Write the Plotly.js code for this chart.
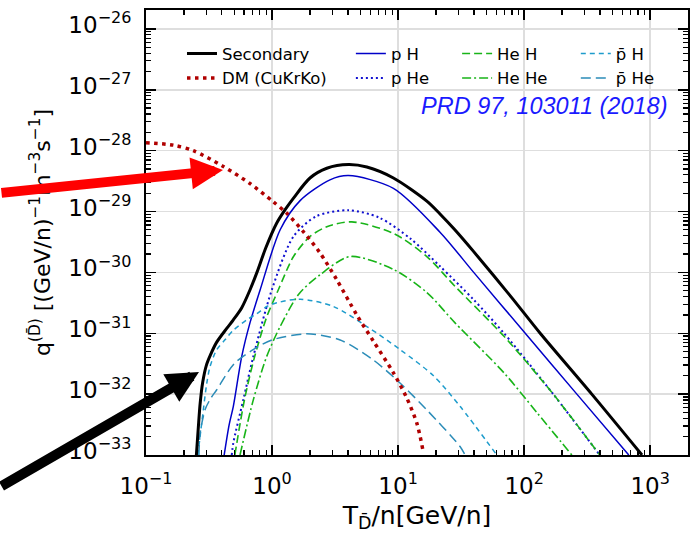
<!DOCTYPE html>
<html>
<head>
<meta charset="utf-8">
<script src="https://cdn.plot.ly/plotly-3.0.1.min.js"></script>
<style>
html,body{margin:0;padding:0;background:#fff;}
#chart{width:690px;height:535px;}
</style>
</head>
<body>
<div id="chart"></div>
<script>
// Kinetic energy per nucleon T (GeV/n) and source term q (GeV/n)^-1 m^-3 s^-1
const T_secondary = [0.251,0.260,0.269,0.282,0.302,0.324,0.363,0.437,0.493,0.575,0.668,0.759,0.891,1.09,1.27,1.48,2.00,2.72,4.04,5.65,9.18,16.9,21.5,28.2,39.8,79.4,134,344,861];
const q_secondary = [1.00e-33,2.82e-33,7.08e-33,1.58e-32,3.02e-32,4.37e-32,7.08e-32,1.20e-31,1.66e-31,2.63e-31,5.13e-31,1.00e-30,2.51e-30,6.46e-30,1.07e-29,1.66e-29,3.55e-29,5.13e-29,5.89e-29,5.37e-29,3.55e-29,1.48e-29,9.12e-30,5.01e-30,2.19e-30,3.89e-31,1.00e-31,1.00e-32,1.00e-33];

const T_dm = [0.100,0.165,0.237,0.410,0.668,1.02,1.31,1.77,2.40,3.26,4.70,6.37,9.18,11.7,14.1,15.7];
const q_dm = [1.35e-28,1.23e-28,1.00e-28,5.50e-29,2.88e-29,1.45e-29,9.33e-30,4.68e-30,2.09e-30,7.59e-31,2.00e-31,7.41e-32,2.24e-32,8.71e-33,3.31e-33,1.23e-33];

const T_pH = [0.417,0.457,0.493,0.575,0.668,0.804,1.16,1.67,2.88,4.04,9.18,21.5,39.8,102,262,676];
const q_pH = [1.00e-33,3.16e-33,6.31e-33,4.17e-32,1.48e-31,5.13e-31,5.01e-30,1.51e-29,3.31e-29,3.89e-29,2.40e-29,4.57e-30,1.00e-30,1.00e-31,1.00e-32,1.00e-33];

const T_pHe = [0.479,0.493,0.592,0.711,0.995,1.48,2.24,4.04,7.08,12.6,21.5,39.8,69.2,170,398];
const q_pHe = [1.00e-33,1.58e-33,8.13e-33,4.17e-32,5.13e-31,3.89e-30,8.32e-30,1.05e-29,7.94e-30,3.55e-30,1.26e-30,3.55e-31,1.00e-31,1.00e-32,1.00e-33];

const T_HeH = [0.507,0.603,0.724,0.908,1.12,1.48,2.00,2.72,4.29,9.18,16.9,28.3,69.2,170,398];
const q_HeH = [1.00e-33,7.94e-33,3.98e-32,1.86e-31,5.13e-31,1.82e-30,3.89e-30,5.62e-30,6.76e-30,4.37e-30,1.82e-30,5.89e-31,8.91e-32,1.00e-32,1.00e-33];

const T_HeHe = [0.557,0.711,0.908,1.16,1.64,2.40,4.16,9.18,16.9,28.3,69.2,126,239];
const q_HeHe = [1.00e-33,8.13e-33,4.17e-32,1.29e-31,4.47e-31,9.12e-31,1.82e-30,1.12e-30,4.68e-31,1.48e-31,2.24e-32,5.01e-33,1.00e-33];

const T_pbarH = [0.258,0.272,0.285,0.302,0.322,0.364,0.427,0.493,0.631,0.757,0.908,1.09,1.67,3.07,5.65,10.4,19.1,31.0,60.7];
const q_pbarH = [1.00e-33,2.51e-33,5.50e-33,1.41e-32,2.82e-32,5.37e-32,7.94e-32,1.12e-31,1.66e-31,2.09e-31,2.75e-31,3.16e-31,3.63e-31,2.75e-31,1.29e-31,5.37e-32,2.00e-32,6.31e-33,1.00e-33];

const T_pbarHe = [0.263,0.269,0.295,0.324,0.363,0.501,0.708,1.00,1.88,3.47,6.37,10.4,16.9,31.0,34.0];
const q_pbarHe = [1.00e-33,2.29e-33,5.62e-33,8.32e-33,1.17e-32,3.16e-32,5.37e-32,7.76e-32,9.77e-32,7.76e-32,3.63e-32,1.51e-32,5.50e-33,1.38e-33,1.00e-33];

const names = ['Secondary','DM (CuKrKo)','p H','p He','He H','He He','p\u0304 H','p\u0304 He'];

// tick positions and exponents for labels
const xTickVals = [0.1, 1, 10, 100, 1000];
const xTickExp = ['\u22121', '0', '1', '2', '3'];
const yTickVals = [1e-33, 1e-32, 1e-31, 1e-30, 1e-29, 1e-28, 1e-27, 1e-26];
const yTickExp = ['\u221233', '\u221232', '\u221231', '\u221230', '\u221229', '\u221228', '\u221227', '\u221226'];

function powLabel(e) {
  return '10<sup><span style="font-size:16px">' + e + '</span></sup>';
}

function tr(x, y, name, color, width, dash, legend, rank) {
  return {x: x, y: y, name: name, type: 'scatter', mode: 'lines',
    line: {color: color, width: width, dash: dash, shape: 'spline', smoothing: 0.8},
    legend: legend, legendrank: rank, hoverinfo: 'skip'};
}

const data = [
  tr(T_pH, q_pH, names[2], '#0000c8', 1.5, 'solid', 'legend2', 1),
  tr(T_pHe, q_pHe, names[3], '#1010d0', 2, '2px,3px', 'legend2', 2),
  tr(T_HeH, q_HeH, names[4], '#18b418', 1.6, '8px,4px', 'legend3', 1),
  tr(T_HeHe, q_HeHe, names[5], '#18b418', 1.6, '9px,3px,2px,3px', 'legend3', 2),
  tr(T_pbarH, q_pbarH, names[6], '#1e9ccc', 1.5, '5px,4px', 'legend4', 1),
  tr(T_pbarHe, q_pbarHe, names[7], '#2b8cb8', 1.5, '10px,5px', 'legend4', 2),
  tr(T_dm, q_dm, names[1], '#b00000', 3.5, '3.5px,4.5px', 'legend', 2),
  tr(T_secondary, q_secondary, names[0], '#000000', 3, 'solid', 'legend', 1)
];

const tickfont = {family: 'DejaVu Sans', size: 23, color: '#000'};
function legendAt(x) {
  return {x: x, y: 0.941, xanchor: 'left', yanchor: 'top', bgcolor: 'rgba(0,0,0,0)',
    borderwidth: 0, font: {family: 'DejaVu Sans', size: 16.5, color: '#000'},
    itemwidth: 30, tracegroupgap: 0, traceorder: 'normal'};
}

const minorTicks = {ticks: 'inside', ticklen: 5, tickwidth: 1.2, tickcolor: '#000', tickmode: 'linear', dtick: 'D1', showgrid: false};

const layout = {
  width: 690, height: 535,
  margin: {l: 146, r: 2, t: 10, b: 80},
  paper_bgcolor: '#fff', plot_bgcolor: '#fff',
  font: {family: 'DejaVu Sans', color: '#000'},
  showlegend: true,
  legend: legendAt(0.0664),
  legend2: legendAt(0.378),
  legend3: legendAt(0.574),
  legend4: legendAt(0.793),
  xaxis: {
    type: 'log', range: [-1, 3.3], tickmode: 'array', tickvals: xTickVals, ticktext: xTickExp.map(powLabel),
    ticks: 'inside', ticklen: 10, tickwidth: 1.5, tickcolor: '#000', mirror: 'allticks',
    showline: true, linecolor: '#000', linewidth: 2,
    showgrid: true, gridcolor: '#dedede', gridwidth: 1.5,
    tickfont: tickfont, ticklabelstandoff: 9,
    minor: minorTicks,
    title: {text: 'T<sub>D\u0304</sub>/n[GeV/n]', font: {family: 'DejaVu Sans', size: 25, color: '#000'}, standoff: 9}
  },
  yaxis: {
    type: 'log', range: [-33, -25.69], tickmode: 'array', tickvals: yTickVals, ticktext: yTickExp.map(powLabel),
    ticks: 'inside', ticklen: 10, tickwidth: 1.5, tickcolor: '#000', mirror: 'allticks',
    showline: true, linecolor: '#000', linewidth: 2,
    showgrid: true, gridcolor: '#dedede', gridwidth: 1.5,
    tickfont: tickfont, ticklabelstandoff: 8, ticklabelshift: -4,
    minor: minorTicks,
    title: {text: 'q<sup>(D\u0304)</sup> [(GeV/n)<sup>\u22121</sup>m<sup>\u22123</sup>s<sup>\u22121</sup>]', font: {family: 'DejaVu Sans', size: 22, color: '#000'}, standoff: 12}
  },
  annotations: [
    {xref: 'paper', yref: 'paper', x: 0.965, y: 0.784, xanchor: 'right', yanchor: 'middle',
     text: '<i>PRD 97, 103011 (2018)</i>', showarrow: false,
     font: {family: 'Liberation Sans', size: 23.5, color: '#1a1aff'}},
    {xref: 'paper', yref: 'paper', x: 0.1421, y: 0.6404, text: '', showarrow: true,
     ax: -230, ay: 23, arrowhead: 2, arrowsize: 0.64, arrowwidth: 10, arrowcolor: '#ff0000', standoff: 0},
    {xref: 'paper', yref: 'paper', x: 0.0978, y: 0.1865, text: '', showarrow: true,
     ax: -206, ay: 115, arrowhead: 2, arrowsize: 0.64, arrowwidth: 10, arrowcolor: '#000000', standoff: 0}
  ]
};

Plotly.newPlot('chart', data, layout, {staticPlot: true, displayModeBar: false});
</script>
</body>
</html>
